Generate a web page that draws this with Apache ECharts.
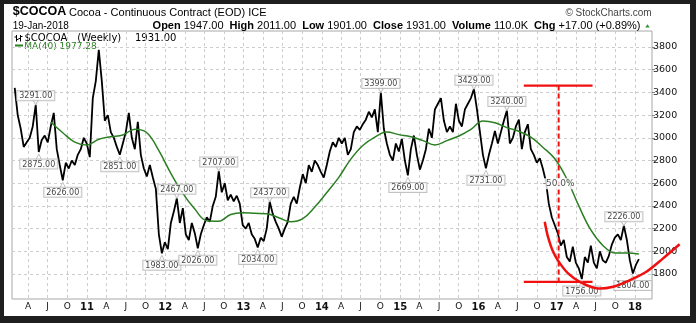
<!DOCTYPE html>
<html>
<head>
<meta charset="utf-8">
<script src="https://cdn.jsdelivr.net/npm/echarts@6/dist/echarts.min.js"></script>
<style>
  html, body { margin: 0; padding: 0; background: #1f1f1f; }
  #chart { position: absolute; left: 4px; top: 4px; width: 686px; height: 312px; background: #ffffff; }
</style>
</head>
<body>
<div id="chart"></div>
<script>
// Weekly cocoa continuous contract, sampled every two weeks
const priceStart = '2010-01-29';
const priceStepDays = 14;
const price = [
  3440, 3200, 3080, 2920, 2960, 3000, 3100, 3291, 2875, 2980,
  3020, 2960, 3100, 3220, 2900, 2760, 2626, 2780, 2730, 2800,
  2760, 2850, 2900, 3000, 2950, 2830, 3350, 3500, 3775, 3500,
  3150, 3200, 3050, 3000, 2920, 2851, 2950, 3050, 3220, 3000,
  2900, 3140, 2850, 2730, 2660, 2760, 2650, 2550, 2150, 1983,
  2080, 2020, 2250, 2350, 2467, 2250, 2380, 2150, 2100, 2250,
  2160, 2026, 2150, 2230, 2300, 2260, 2400, 2480, 2707, 2520,
  2600, 2450, 2500, 2440, 2490, 2420, 2230, 2200, 2250, 2150,
  2110, 2034, 2120, 2090, 2200, 2437, 2330, 2260, 2200, 2130,
  2200, 2260, 2420, 2480, 2420, 2560, 2680, 2600, 2760, 2700,
  2800, 2760, 2700, 2650, 2760, 2880, 2960, 2920, 3000, 2950,
  3000, 2850, 2900, 3050, 3100, 3070, 3120, 3160, 3230, 3180,
  3250, 3050, 3399, 3080, 2950, 2850, 2800, 2950, 2880, 2990,
  2800, 2669, 2900, 3020, 2850, 2720, 2800, 2900, 3080, 3000,
  3250, 3300, 3350, 3150, 3050, 3100, 3050, 3300, 3150, 3100,
  3250, 3300, 3350, 3429, 3250, 3050, 2850, 2731, 2850, 2950,
  3060, 2950, 3050, 3150, 3240, 2950, 3000, 3100, 3160, 2900,
  3050, 3120, 2900, 2850, 2780, 2820, 2730, 2620, 2420, 2300,
  2230, 2160, 2050, 2100, 1950, 1910, 2040, 1900, 1850, 1756,
  1950, 1900, 2050, 1900, 1850, 2000, 1920, 1900, 1960, 2060,
  2120, 2150, 2100, 2226, 2100, 1920, 1804, 1880, 1931
];

// 40-week moving average, every eight weeks
const maStart = '2010-07-16';
const maStepDays = 56;
const ma40 = [
  3140, 3045, 2962, 2937, 2988, 3010, 3025, 3076, 3045, 2887,
  2687, 2511, 2372, 2270, 2266, 2325, 2339, 2335, 2331, 2296,
  2261, 2288, 2390, 2518, 2652, 2812, 2932, 3006, 3051, 3028,
  3010, 2975, 2937, 2975, 3016, 3074, 3149, 3133, 3090, 3058,
  3005, 2917, 2815, 2638, 2400, 2188, 2052, 1986, 1986, 1977.28
];

// Annotated swing highs and lows (indices into price)
const swingHighs = [7, 54, 68, 85, 122, 153, 164, 203];
const swingLows = [8, 16, 35, 49, 61, 81, 131, 157, 189, 206];

// Drawdown bracket and rounding-bottom arc
const bracketStart = '2016-07-31';
const bracketEnd = '2017-06-17';
const bracketMid = '2017-01-10';
const bracketTop = 3460;
const bracketBottom = 1730;
const arcDates = ['2016-11-06', '2016-11-21', '2016-12-15', '2017-01-16', '2017-02-23', '2017-04-18',
                  '2017-07-05', '2017-09-21', '2017-12-08', '2018-02-23', '2018-05-12', '2018-07-28'];
const arcValues = [2261, 2129, 1997, 1894, 1806, 1732, 1674, 1688, 1747, 1820, 1938, 2062];

// Axis ticks
const xTickDates = [
  '2010-04-01', '2010-07-01', '2010-10-01',
  '2011-01-01', '2011-04-01', '2011-07-01', '2011-10-01',
  '2012-01-01', '2012-04-01', '2012-07-01', '2012-10-01',
  '2013-01-01', '2013-04-01', '2013-07-01', '2013-10-01',
  '2014-01-01', '2014-04-01', '2014-07-01', '2014-10-01',
  '2015-01-01', '2015-04-01', '2015-07-01', '2015-10-01',
  '2016-01-01', '2016-04-01', '2016-07-01', '2016-10-01',
  '2017-01-01', '2017-04-01', '2017-07-01', '2017-10-01',
  '2018-01-01'
];
const xTickLabels = [
  'A', 'J', 'O',
  '11', 'A', 'J', 'O', '12', 'A', 'J', 'O', '13', 'A', 'J', 'O',
  '14', 'A', 'J', 'O', '15', 'A', 'J', 'O', '16', 'A', 'J', 'O',
  '17', 'A', 'J', 'O', '18'
];
const yTicks = [1800, 2000, 2200, 2400, 2600, 2800, 3000, 3200, 3400, 3600, 3800];

// Quote header
const quoteDate = '19-Jan-2018';
const quote = { open: 1947, high: 2011, low: 1901, close: 1931, volume: '110.0K', chg: 17 };

// ---- helpers: dates become fractional years on a value axis ----
function yearFraction(ms) {
  const d = new Date(ms);
  const y = d.getUTCFullYear();
  const a = Date.UTC(y, 0, 1), b = Date.UTC(y + 1, 0, 1);
  return y + (ms - a) / (b - a);
}
function toYear(s) { return yearFraction(Date.parse(s + 'T00:00:00Z')); }
function stepYear(start, stepDays, i) { return yearFraction(Date.parse(start + 'T00:00:00Z') + i * stepDays * 864e5); }

const priceData = price.map((v, i) => [stepYear(priceStart, priceStepDays, i), v]);
const maData = ma40.map((v, i) => [stepYear(maStart, maStepDays, i), v]);
const tickYears = xTickDates.map(toYear);
const arcData = arcDates.map((d, i) => [toYear(d), arcValues[i]]);
const pct = ((bracketBottom - bracketTop) / bracketTop * 100).toFixed(1) + '%';

const FONT = 'DejaVu Sans';
const HFONT = 'Liberation Sans, Arial, sans-serif';
const RED = '#f01010';

const pivotLabel = {
  show: true,
  formatter: p => p.value[1].toFixed(2),
  fontFamily: FONT, fontSize: 8, lineHeight: 8, color: '#111',
  backgroundColor: '#fff', borderColor: '#b4b4b4', borderWidth: 1,
  padding: [1, 2, 0, 2]
};

const chart = echarts.init(document.getElementById('chart'), null, { renderer: 'canvas' });

const fmtChg = (quote.chg >= 0 ? '+' : '') + quote.chg.toFixed(2) +
  ' (' + (quote.chg >= 0 ? '+' : '') + (quote.chg / (quote.close - quote.chg) * 100).toFixed(2) + '%)';

const headerGraphics = [
  { type: 'text', x: 8.7, y: 8, style: { text: '$COCOA', font: 'bold 12.5px ' + HFONT, fill: '#000', verticalAlign: 'middle' } },
  { type: 'text', x: 65, y: 9, style: { text: 'Cocoa - Continuous Contract (EOD) ICE', font: '11px ' + HFONT, fill: '#000', verticalAlign: 'middle' } },
  { type: 'text', x: 647.7, y: 8.8, style: { text: '\u00a9 StockCharts.com', font: '10px ' + HFONT, fill: '#444', align: 'right', verticalAlign: 'middle' } },
  { type: 'text', x: 8.7, y: 21.8, style: { text: quoteDate, font: '10px ' + HFONT, fill: '#000', verticalAlign: 'middle' } },
  { type: 'text', x: 636.5, y: 21.8, style: {
      text: '{b|Open} ' + quote.open.toFixed(2) + '  {b|High} ' + quote.high.toFixed(2) +
            '  {b|Low} ' + quote.low.toFixed(2) + '  {b|Close} ' + quote.close.toFixed(2) +
            '  {b|Volume} ' + quote.volume + '  {b|Chg} ' + fmtChg,
      font: '11px ' + HFONT, fill: '#000', align: 'right', verticalAlign: 'middle',
      rich: { b: { fontFamily: HFONT, fontSize: 11, fontWeight: 'bold', fill: '#000' } }
    } },
  { type: 'polygon', shape: { points: [[641.3, 23.6], [643.5, 20.2], [645.7, 23.6]] }, style: { fill: '#2f8f2f' } },
  // legend: bar icon, price, MA
  { type: 'polyline', shape: { points: [[12.5, 31], [12.5, 37.5]] }, style: { stroke: '#000', lineWidth: 1 } },
  { type: 'polyline', shape: { points: [[10.5, 33], [12.5, 33]] }, style: { stroke: '#000', lineWidth: 1 } },
  { type: 'polyline', shape: { points: [[12.5, 35.5], [14.5, 35.5]] }, style: { stroke: '#000', lineWidth: 1 } },
  { type: 'polyline', shape: { points: [[16.5, 31], [16.5, 37.5]] }, style: { stroke: '#000', lineWidth: 1 } },
  { type: 'polyline', shape: { points: [[14.5, 34.5], [16.5, 34.5]] }, style: { stroke: '#000', lineWidth: 1 } },
  { type: 'polyline', shape: { points: [[16.5, 32.5], [18.5, 32.5]] }, style: { stroke: '#000', lineWidth: 1 } },
  { type: 'text', x: 20.5, y: 34.5, style: { text: '$COCOA', font: '10px ' + FONT, fill: '#000', verticalAlign: 'middle' } },
  { type: 'text', x: 73.3, y: 34.5, style: { text: '(Weekly)', font: '10px ' + FONT, fill: '#000', verticalAlign: 'middle' } },
  { type: 'text', x: 131, y: 34.5, style: { text: quote.close.toFixed(2), font: '10px ' + FONT, fill: '#000', verticalAlign: 'middle' } },
  { type: 'polyline', shape: { points: [[11, 41.5], [19, 41.5]] }, style: { stroke: '#2b7f22', lineWidth: 2 } },
  { type: 'text', x: 20.3, y: 42.7, style: { text: 'MA(40) ' + ma40[ma40.length - 1].toFixed(2), font: '9px ' + FONT, fill: '#2b7f22', verticalAlign: 'middle' } }
];

chart.setOption({
  animation: false,
  backgroundColor: '#fff',
  grid: { left: 8, top: 27, width: 640, height: 268, show: true, borderColor: '#a8a8a8', borderWidth: 1, backgroundColor: 'transparent' },
  xAxis: {
    type: 'value', min: 2010.042, max: 2018.217,
    axisLine: { show: false },
    axisTick: { show: false, customValues: tickYears },
    axisLabel: {
      customValues: tickYears, margin: 3, fontFamily: FONT, fontSize: 9, color: '#111',
      formatter: v => {
        let k = 0, best = 1e9;
        tickYears.forEach((t, j) => { const d = Math.abs(t - v); if (d < best) { best = d; k = j; } });
        const s = xTickLabels[k];
        return /\d/.test(s) ? '{b|' + s + '}' : s;
      },
      rich: { b: { fontFamily: FONT, fontSize: 10, fontWeight: 'bold', color: '#111' } }
    },
    splitLine: { show: true, lineStyle: { color: '#cdcdcd', type: [3, 3], width: 1 } }
  },
  yAxis: {
    type: 'value', position: 'right', min: 1580, max: 3941,
    axisLine: { show: false },
    axisTick: { show: true, length: 3, customValues: yTicks, lineStyle: { color: '#888' } },
    axisLabel: { customValues: yTicks, margin: 1, fontFamily: FONT, fontSize: 9.5, color: '#111', formatter: v => String(v) },
    splitLine: { show: true, lineStyle: { color: '#cdcdcd', type: [3, 3], width: 1 } }
  },
  series: [
    {
      name: 'price', type: 'line', data: priceData, symbol: 'none', z: 3,
      lineStyle: { color: '#000', width: 1.8 }
    },
    {
      name: 'ma40', type: 'line', data: maData, symbol: 'none', smooth: 0.4, z: 4,
      lineStyle: { color: '#2b7f22', width: 1.5 }
    },
    {
      name: 'bracketTop', type: 'line', symbol: 'none', z: 5,
      data: [[toYear(bracketStart), bracketTop], [toYear(bracketEnd), bracketTop]],
      lineStyle: { color: RED, width: 2.2 }
    },
    {
      name: 'bracketBottom', type: 'line', symbol: 'none', z: 5,
      data: [[toYear(bracketStart), bracketBottom], [toYear(bracketEnd), bracketBottom]],
      lineStyle: { color: RED, width: 2.2 }
    },
    {
      name: 'bracketStem', type: 'line', symbol: 'none', z: 5,
      data: [[toYear(bracketMid), bracketTop], [toYear(bracketMid), bracketBottom]],
      lineStyle: { color: RED, width: 2, type: [5, 3] }
    },
    {
      name: 'pct', type: 'scatter', z: 7, symbol: 'rect', symbolSize: 1,
      itemStyle: { color: 'rgba(0,0,0,0)' },
      data: [[toYear(bracketMid), (bracketTop + bracketBottom) / 2]],
      label: {
        show: true, position: 'inside', formatter: pct,
        fontFamily: FONT, fontSize: 9, color: '#222', backgroundColor: '#fff', padding: [1, 1]
      }
    },
    {
      name: 'highs', type: 'scatter', z: 8,
      symbol: 'path://M0,0L8,0L4,6Z', symbolSize: [6, 5], symbolOffset: [0, -2.5], symbolKeepAspect: false,
      itemStyle: { color: '#fff', borderColor: '#b4b4b4', borderWidth: 1 },
      data: swingHighs.map(i => priceData[i]),
      label: Object.assign({ position: 'top', distance: -1 }, pivotLabel)
    },
    {
      name: 'lows', type: 'scatter', z: 8,
      symbol: 'path://M0,6L8,6L4,0Z', symbolSize: [6, 6], symbolOffset: [0, 5], symbolKeepAspect: false,
      itemStyle: { color: '#fff', borderColor: '#b4b4b4', borderWidth: 1 },
      data: swingLows.map(i => priceData[i]),
      label: Object.assign({ position: 'bottom', distance: -1 }, pivotLabel)
    }
  ],
  graphic: { elements: headerGraphics }
});

// The rounding-bottom arc runs past the plot's right edge, so it is drawn
// as a free curve through points placed by the chart's own axes.
const arcPixels = arcData.map(p => chart.convertToPixel({ xAxisIndex: 0, yAxisIndex: 0 }, p));
chart.setOption({
  graphic: { elements: headerGraphics.concat([
    { type: 'polyline', z: 100, shape: { points: arcPixels, smooth: 0.35 },
      style: { stroke: RED, lineWidth: 2.5, fill: null } }
  ]) }
});
</script>
</body>
</html>
